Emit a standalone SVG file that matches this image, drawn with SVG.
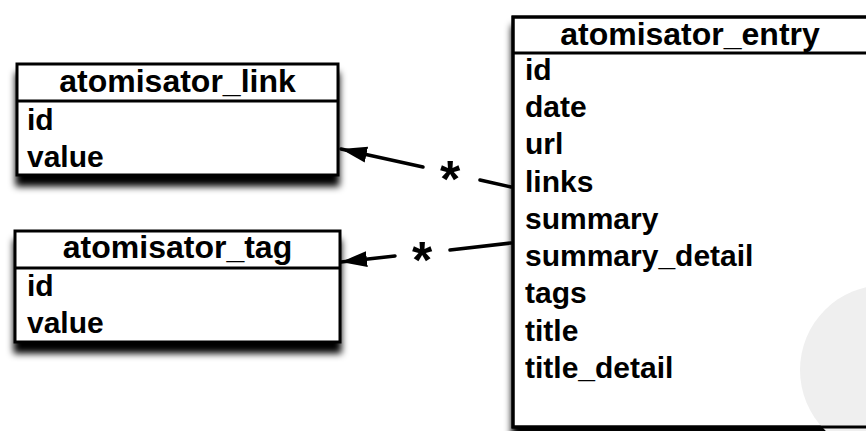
<svg xmlns="http://www.w3.org/2000/svg" width="866" height="431" viewBox="0 0 866 431">
  <style>
    .box { fill: #ffffff; stroke: #000000; stroke-width: 3; }
    .sep { stroke: #000000; stroke-width: 3; }
    .head { font-family: "Liberation Sans", Arial, sans-serif; font-weight: bold; font-size: 32px; fill: #000000; text-anchor: middle; }
    .field { font-family: "Liberation Sans", Arial, sans-serif; font-weight: bold; font-size: 30px; fill: #000000; }
    .edge { fill: none; stroke: #000000; stroke-width: 3.5; stroke-linecap: round; }
    .mult { font-family: "Liberation Sans", Arial, sans-serif; font-weight: bold; font-size: 52px; fill: #000000; text-anchor: middle; }
  </style>
  <defs>
    <filter id="dropShadow" x="-10%" y="-10%" width="120%" height="140%">
      <feGaussianBlur in="SourceAlpha" stdDeviation="3.5"/>
      <feOffset dy="10" result="shade"/>
      <feMerge>
        <feMergeNode in="shade"/>
        <feMergeNode in="SourceGraphic"/>
      </feMerge>
    </filter>
    <marker id="arrow" markerUnits="userSpaceOnUse" markerWidth="30" markerHeight="20" refX="26" refY="9" orient="auto">
      <path d="M0,1 L26,9 L0,17 Z" fill="#000000"/>
    </marker>
  </defs>

  <rect width="866" height="431" fill="#ffffff"/>

  <!-- entry table -->
  <g id="atomisator_entry">
    <rect class="box" x="513" y="17" width="372" height="410" filter="url(#dropShadow)"/>
    <circle cx="885" cy="370" r="85" fill="#efefef"/>
    <rect x="513" y="17" width="372" height="410" fill="none" stroke="#000000" stroke-width="3"/>
    <line class="sep" x1="513" y1="53" x2="866" y2="53"/>
    <text class="head" x="690" y="45">atomisator_entry</text>
    <text class="field" x="525" y="80">id</text>
    <text class="field" x="525" y="117">date</text>
    <text class="field" x="525" y="154">url</text>
    <text class="field" x="525" y="192">links</text>
    <text class="field" x="525" y="229">summary</text>
    <text class="field" x="525" y="266">summary_detail</text>
    <text class="field" x="525" y="303">tags</text>
    <text class="field" x="525" y="341">title</text>
    <text class="field" x="525" y="378">title_detail</text>
  </g>

  <!-- link table -->
  <g id="atomisator_link">
    <rect class="box" x="17" y="64" width="321" height="111" filter="url(#dropShadow)"/>
    <line class="sep" x1="17" y1="101" x2="338" y2="101"/>
    <text class="head" x="177.5" y="92">atomisator_link</text>
    <text class="field" x="27" y="130">id</text>
    <text class="field" x="27" y="167">value</text>
  </g>

  <!-- tag table -->
  <g id="atomisator_tag">
    <rect class="box" x="15" y="231" width="325" height="111" filter="url(#dropShadow)"/>
    <line class="sep" x1="15" y1="268" x2="340" y2="268"/>
    <text class="head" x="177.5" y="258">atomisator_tag</text>
    <text class="field" x="27" y="296">id</text>
    <text class="field" x="27" y="333">value</text>
  </g>

  <!-- relations -->
  <g id="connectors">
    <line class="edge" x1="511" y1="187" x2="480" y2="180"/>
    <line class="edge" x1="423" y1="167" x2="341" y2="149" marker-end="url(#arrow)"/>
    <text class="mult" x="450" y="197">*</text>
    <line class="edge" x1="511" y1="243" x2="450" y2="250"/>
    <line class="edge" x1="395" y1="256" x2="341" y2="262" marker-end="url(#arrow)"/>
    <text class="mult" x="422" y="278">*</text>
  </g>
</svg>
